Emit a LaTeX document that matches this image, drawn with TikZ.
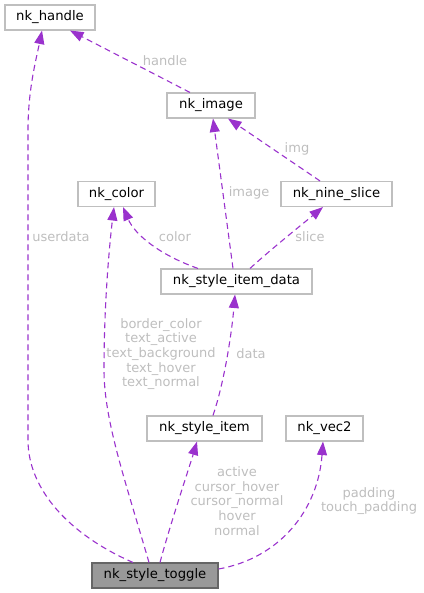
\documentclass[tikz,border=0pt]{standalone}
\usepackage{fontspec}
\setmainfont{DejaVu Sans}
\usetikzlibrary{arrows.meta}
\definecolor{edgec}{HTML}{9A32CD}
\definecolor{labc}{HTML}{BEBEBE}
\definecolor{boxc}{HTML}{BFBFBF}
\definecolor{mainfill}{HTML}{999999}
\definecolor{mainborder}{HTML}{666666}
\begin{document}
\begin{tikzpicture}[x=1pt,y=-1pt,
  cls/.style={draw=boxc, line width=1.1pt, fill=white, minimum height=25pt, inner sep=0pt,
    font=\fontsize{13.2}{15}\selectfont, text=black},
  mainc/.style={cls, draw=mainborder, fill=mainfill},
  edge/.style={draw=edgec, line width=1.1pt, dash pattern=on 6pt off 4pt,
    -{Triangle[length=13.5pt,width=10pt]}},
  lab/.style={text=labc, align=center, inner sep=0pt,
    font=\fontsize{13}{14.7}\selectfont}]
\useasboundingbox (0,0) rectangle (423,593);
% nodes
\node[cls, minimum width=90pt] (handle) at (50,17.5) {nk\_handle};
\node[cls, minimum width=88pt] (image) at (211,105.5) {nk\_image};
\node[cls, minimum width=111pt] (nine) at (336.5,194) {nk\_nine\_slice};
\node[cls, minimum width=77pt] (color) at (116.5,194) {nk\_color};
\node[cls, minimum width=151pt] (itemdata) at (236.5,281.5) {nk\_style\_item\_data};
\node[cls, minimum width=115pt] (item) at (204.5,428.5) {nk\_style\_item};
\node[cls, minimum width=77pt] (vec) at (324.5,428.5) {nk\_vec2};
\node[mainc, minimum width=126pt] (toggle) at (155,575.5) {nk\_style\_toggle};
% edges
\draw[edge] ([xshift=-22pt]toggle.north) .. controls (70,535) and (28,490) .. (28,440)
  -- (28,130) .. controls (28,90) and (36,60) .. ([xshift=-8pt]handle.south);
\draw[edge] ([xshift=-6pt]toggle.north) .. controls (125,480) and (104,420) .. (104,370)
  .. controls (104,300) and (110,240) .. ([xshift=-2.5pt]color.south);
\draw[edge] ([xshift=5pt]toggle.north) .. controls (170,525) and (190,465) .. ([xshift=-7.5pt]item.south);
\draw[edge] ([yshift=6.5pt]toggle.east) .. controls (280,558) and (318,510) .. ([xshift=-1.5pt]vec.south);
\draw[edge] ([xshift=8.5pt]item.north) .. controls (225,380) and (232,330) .. ([xshift=-1.5pt]itemdata.south);
\draw[edge] ([xshift=-38.5pt]itemdata.north) .. controls (160,255) and (135,235) .. ([xshift=6.5pt]color.south);
\draw[edge] ([xshift=-3.5pt]itemdata.north) -- ([xshift=2pt]image.south);
\draw[edge] ([xshift=13.5pt]itemdata.north) .. controls (270,250) and (305,222) .. ([xshift=-13.5pt]nine.south);
\draw[edge] ([xshift=-16.5pt]nine.north) -- ([xshift=17pt]image.south);
\draw[edge] ([xshift=-21pt]image.north) -- ([xshift=20pt]handle.south);
% labels
\node[lab] (l1) at (165,61) {handle};
\node[lab] (l2) at (297,149) {img};
\node[lab] (l3) at (249,193) {image};
\node[lab] (l4) at (310,237) {slice};
\node[lab] (l5) at (175,237) {color};
\node[lab] (l6) at (61,237) {userdata};
\node[lab] (l7) at (161,354) {border\_color\\text\_active\\text\_background\\text\_hover\\text\_normal};
\node[lab] (l8) at (251,354) {data};
\node[lab] (l9) at (237,501) {active\\cursor\_hover\\cursor\_normal\\hover\\normal};
\node[lab] (l10) at (369,501) {padding\\touch\_padding};
\end{tikzpicture}
\end{document}
